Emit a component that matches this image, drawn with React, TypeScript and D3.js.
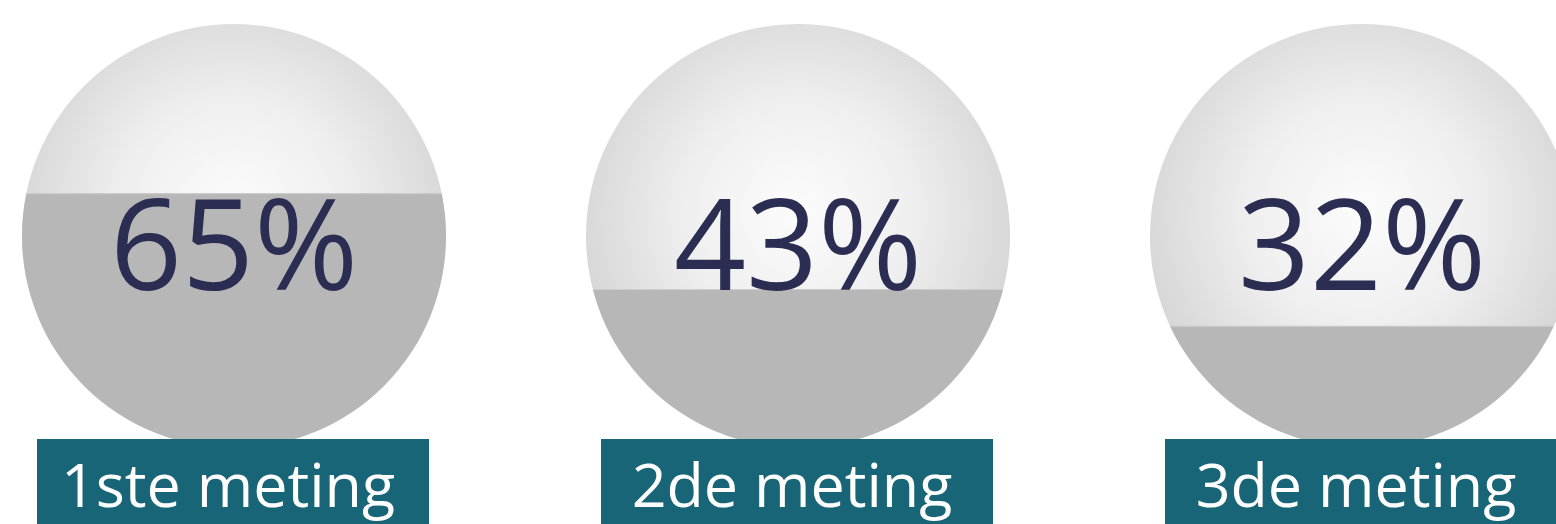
import React, { useEffect, useRef } from "react";
import * as d3 from "d3";

const categories = ["1ste meting", "2de meting", "3de meting"];
const percentages = [65, 43, 32];
// fill level of each sphere, as a fraction of its diameter
const fillLevels = [0.601, 0.375, 0.288];

const W = 1556;
const H = 524;

export default function App() {
  const ref = useRef<SVGSVGElement | null>(null);

  useEffect(() => {
    document.body.style.margin = "0";
    const svg = d3.select(ref.current);
    svg.selectAll("*").remove();

    const x = d3.scalePoint<string>().domain(categories).range([234, 1362]);
    const r = 212;
    const cy = 236;
    const level = d3.scaleLinear().domain([0, 1]).range([cy + r, cy - r]);

    const defs = svg.append("defs");
    const grad = defs
      .append("radialGradient")
      .attr("id", "sphere")
      .attr("cx", "50%")
      .attr("cy", "45%")
      .attr("r", "53%")
      .attr("fx", "50%")
      .attr("fy", "44%");
    grad.append("stop").attr("offset", "0%").attr("stop-color", "#fcfcfc");
    grad.append("stop").attr("offset", "50%").attr("stop-color", "#efefef");
    grad.append("stop").attr("offset", "100%").attr("stop-color", "#d6d6d6");

    categories.forEach((c, i) => {
      defs
        .append("clipPath")
        .attr("id", `clip${i}`)
        .append("circle")
        .attr("cx", x(c)!)
        .attr("cy", cy)
        .attr("r", r);
    });

    const g = svg
      .selectAll("g.item")
      .data(categories)
      .join("g")
      .attr("class", "item");

    g.append("circle")
      .attr("cx", (d) => x(d)!)
      .attr("cy", cy)
      .attr("r", r)
      .attr("fill", "url(#sphere)");

    g.append("rect")
      .attr("clip-path", (d, i) => `url(#clip${i})`)
      .attr("x", (d) => x(d)! - r)
      .attr("width", 2 * r)
      .attr("y", (d, i) => level(fillLevels[i]))
      .attr("height", (d, i) => level(0) - level(fillLevels[i]))
      .attr("fill", "#b7b7b7");

    g.append("line")
      .attr("clip-path", (d, i) => `url(#clip${i})`)
      .attr("x1", (d) => x(d)! - r)
      .attr("x2", (d) => x(d)! + r)
      .attr("y1", (d, i) => level(fillLevels[i]) + 0.5)
      .attr("y2", (d, i) => level(fillLevels[i]) + 0.5)
      .attr("stroke", "#cdcdcd")
      .attr("stroke-width", 1);

    g.append("text")
      .attr("x", (d) => x(d)!)
      .attr("y", 290)
      .attr("text-anchor", "middle")
      .attr("font-family", "'Open Sans', sans-serif")
      .attr("font-size", 126)
      .attr("fill", "#2b2d52")
      .text((d, i) => `${percentages[i]}%`);

    const boxW = 392;
    g.append("rect")
      .attr("x", (d) => x(d)! - boxW / 2 - 1)
      .attr("y", 439)
      .attr("width", boxW)
      .attr("height", 90)
      .attr("fill", "#186577");

    g.append("text")
      .attr("x", (d) => x(d)! - 6)
      .attr("y", 507)
      .attr("text-anchor", "middle")
      .attr("font-family", "'Open Sans', sans-serif")
      .attr("font-size", 61)
      .attr("fill", "#ffffff")
      .text((d) => d);
  }, []);

  return <svg ref={ref} width={W} height={H} style={{ display: "block" }} />;
}
